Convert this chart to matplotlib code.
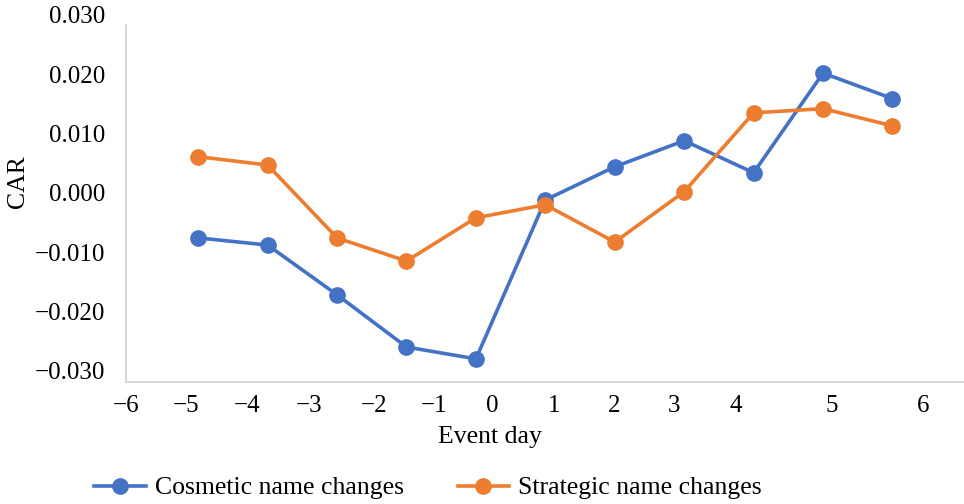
import matplotlib
matplotlib.use("Agg")
import matplotlib.pyplot as plt

# === DATA ===
event_labels = ["−6", "−5", "−4", "−3", "−2", "−1", "0", "1", "2", "3", "4", "5", "6"]
point_index = [1, 2, 3, 4, 5, 6, 7, 8, 9, 10, 11]
cosmetic = [-0.0076, -0.0088, -0.0172, -0.0260, -0.0280, -0.0012,
            0.0044, 0.0088, 0.0034, 0.0202, 0.0159]
strategic = [0.0061, 0.0047, -0.0076, -0.0115, -0.0042, -0.0020,
             -0.0083, 0.0002, 0.0135, 0.0142, 0.0113]
y_ticks = [-0.030, -0.020, -0.010, 0.000, 0.010, 0.020, 0.030]
y_labels = ["−0.030", "−0.020", "−0.010", "0.000", "0.010", "0.020", "0.030"]

# label positions as they sit in the original (uneven)
label_pos = [-0.07, 0.79, 1.68, 2.56, 3.50, 4.37, 5.20, 6.09, 6.96, 7.83, 8.71, 10.09, 11.41]

BLUE = "#4472C4"
ORANGE = "#ED7D31"
plt.rcParams["font.family"] = ["Liberation Serif", "DejaVu Serif"]

fig = plt.figure(figsize=(9.64, 5.04), dpi=100)
ax = fig.add_axes([126 / 964, 1 - 382 / 504, 1 - 126 / 964, (382 - 15) / 504])

ax.plot([p - 0.03 for p in point_index], cosmetic, color=BLUE, lw=2.6, marker="o", ms=11,
        label="Cosmetic name changes")
ax.plot([p - 0.03 for p in point_index], strategic, color=ORANGE, lw=2.6, marker="o", ms=11,
        label="Strategic name changes")

ax.set_xlim(0, 12)
ax.set_ylim(-0.0319, 0.0300)

for s in ["top", "right"]:
    ax.spines[s].set_visible(False)
for s in ["left", "bottom"]:
    ax.spines[s].set_color("#d0d0d0")
    ax.spines[s].set_linewidth(1.2)
ax.spines["left"].set_bounds(-0.0319, 0.0283)

ax.set_xticks(label_pos)
ax.set_xticklabels(event_labels)
ax.set_yticks(y_ticks)
ax.set_yticklabels(y_labels)
ax.tick_params(axis="x", length=0, pad=9, labelsize=18)
ax.tick_params(axis="y", length=0, pad=15, labelsize=18)

fig.text(18 / 964, 1 - 182 / 504, "CAR", rotation=90, ha="center", va="center", fontsize=18.5)
fig.text(490 / 964, 1 - 437 / 504, "Event day", ha="center", va="center", fontsize=18.5)

fig.legend(loc="center", bbox_to_anchor=(428 / 964, 1 - 488 / 504), ncol=2,
           frameon=False, fontsize=18.5, handlelength=2.0, columnspacing=2.1,
           handletextpad=0.35)

plt.savefig("out.png", dpi=100)
